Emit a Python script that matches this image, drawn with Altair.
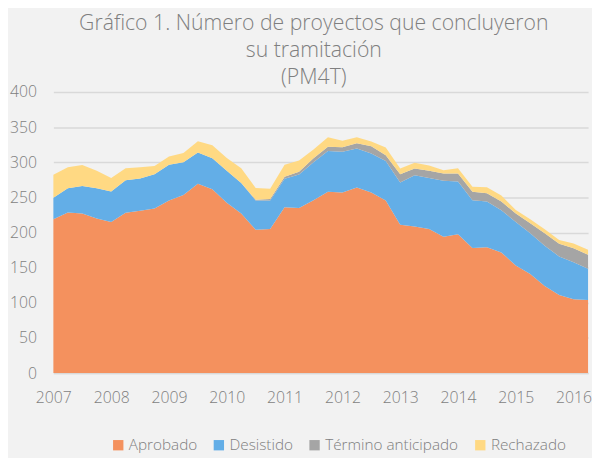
import altair as alt
import pandas as pd

years = ["2007", "2008", "2009", "2010", "2011", "2012", "2013", "2014", "2015", "2016"]
series = ["Aprobado", "Desistido", "Término anticipado", "Rechazado"]
colors = ["#F4915E", "#63AEE7", "#A5A5A5", "#FFD983"]

aprobado = [219, 228.5, 227, 220, 215, 228, 231, 234, 245.5, 253.5, 269.5, 261.5, 242.5, 227,
            204, 205, 236, 235, 246, 258, 257, 264, 257, 245.6, 211, 208.5, 205, 194, 197.5,
            177.8, 179, 171.7, 153, 141, 124, 111, 105, 104]
desistido = [30.5, 34.5, 39, 43, 43.5, 46.5, 46, 49, 51, 46.5, 44.5, 44, 45.5, 43.5,
             41.6, 40.6, 40.5, 47.5, 54, 57.8, 57.8, 55.5, 55.5, 56.2, 60, 73, 72.4, 79.7, 75.2,
             68.2, 65, 60, 62, 57.8, 57, 55, 52.6, 44.5]
termino = [0, 0, 0, 0, 0, 0, 0, 0, 0, 0, 0, 0, 0, 0,
           1, 2, 3, 4, 5.5, 6.2, 6.6, 7.5, 10.3, 8.2, 12, 9.4, 10.3, 10.3, 11.3,
           12, 12, 12.4, 12, 14.2, 18, 18, 20, 20]
rechazado = [32.5, 30, 30, 25, 19, 17, 16, 11.5, 11.5, 13, 16, 18.5, 18, 21,
             16.8, 14.5, 17, 16, 12.5, 13.5, 9.3, 8.5, 6.7, 11, 8, 8.4, 7.5, 4.5, 7.5,
             7, 8.3, 8.6, 5, 6, 5.5, 5.5, 6.8, 7]

rows = []
for k, vals in enumerate([aprobado, desistido, termino, rechazado]):
    for i, v in enumerate(vals):
        rows.append({"t": i, "valor": v, "tipo": series[k], "orden": k})
df = pd.DataFrame(rows)

label_expr = "[" + ",".join("'%s'" % y for y in years) + "][datum.value / 4]"

font = "Open Sans"
gray_txt = "#7F7F7F"

chart = alt.Chart(df).mark_area(opacity=1).encode(
    x=alt.X("t:Q", scale=alt.Scale(domain=[0, 37], nice=False, zero=False),
            axis=alt.Axis(values=[0, 4, 8, 12, 16, 20, 24, 28, 32, 36], labelExpr=label_expr,
                          title=None, grid=False, ticks=False, domain=True,
                          domainColor="#D9D9D9", domainWidth=1.5, labelPadding=17,
                          labelFlush=False, labelOverlap=False, labelBound=False,
                          labelFontSize=16, labelColor=gray_txt, labelFont=font,
                          labelFontWeight=300)),
    y=alt.Y("valor:Q", stack="zero", scale=alt.Scale(domain=[0, 400], nice=False),
            axis=alt.Axis(values=[0, 50, 100, 150, 200, 250, 300, 350, 400], title=None,
                          grid=True, gridColor="#D9D9D9", gridWidth=1.5, ticks=False,
                          domain=False, labelPadding=17, labelFontSize=16,
                          labelColor=gray_txt, labelFont=font, labelFontWeight=300)),
    color=alt.Color("tipo:N", scale=alt.Scale(domain=series, range=colors),
                    legend=alt.Legend(title=None, orient="none", direction="horizontal",
                                      legendX=58, legendY=350, symbolType="square",
                                      symbolSize=110, symbolOpacity=1,
                                      labelFontSize=15.5, labelColor=gray_txt, labelFont=font,
                                      labelFontWeight=300, columnPadding=14, labelOffset=3,
                                      columns=4)),
    order=alt.Order("orden:Q", sort="ascending"),
).properties(
    width=542,
    height=285,
    background="#F2F2F2",
    padding={"left": 46, "top": 82, "right": 4, "bottom": 83},
    autosize=alt.AutoSizeParams(type="none"),
    title=alt.TitleParams(
        text=["Gráfico 1. Número de proyectos que concluyeron", "su tramitación", "(PM4T)"],
        fontSize=21.5, font=font, fontWeight=300, color=gray_txt, lineHeight=27,
        anchor="middle", dx=-7, dy=8, offset=4,
    ),
).configure_view(stroke=None)

chart.save("out.html", embed_options={"renderer": "svg", "actions": False})
